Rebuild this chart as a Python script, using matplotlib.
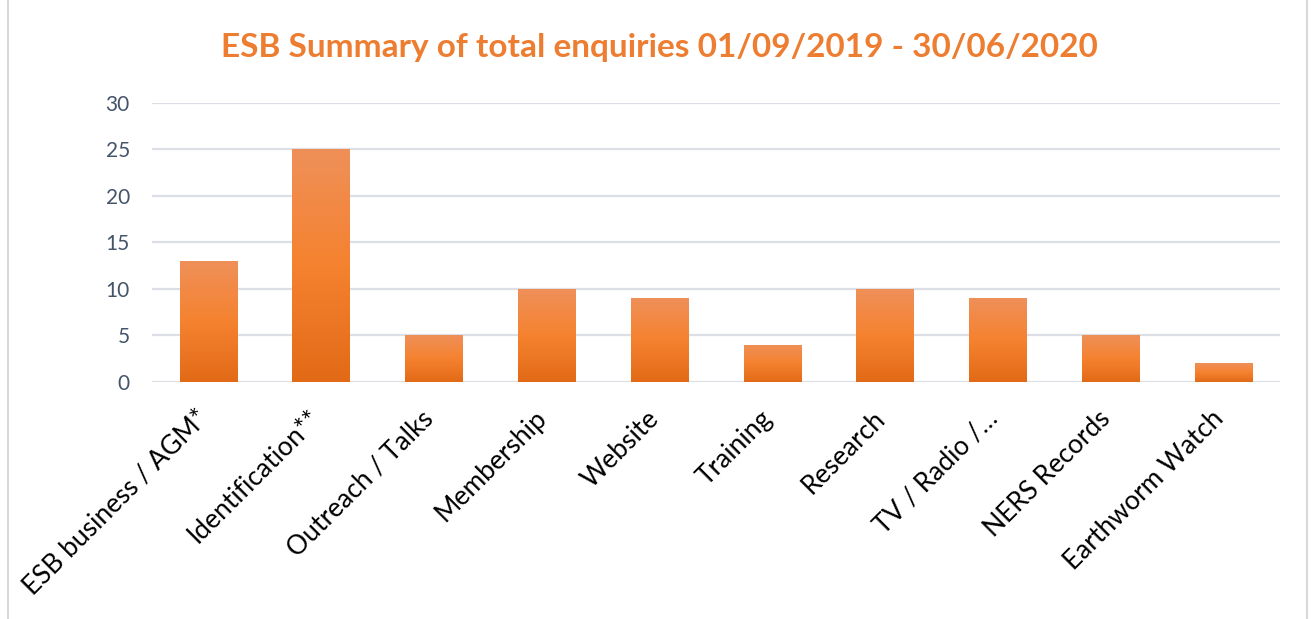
import matplotlib.pyplot as plt
import numpy as np
from matplotlib.colors import LinearSegmentedColormap
from matplotlib.patches import Rectangle
from matplotlib.transforms import ScaledTranslation

categories = ["ESB business / AGM*", "Identification**", "Outreach / Talks", "Membership",
              "Website", "Training", "Research", "TV / Radio /\u2026", "NERS Records",
              "Earthworm Watch"]
enquiries = [13, 25, 5, 10, 9, 4, 10, 9, 5, 2]

plt.rcParams['font.family'] = ['Lato', 'DejaVu Sans']

fig = plt.figure(figsize=(13.12, 6.19), dpi=100)
ax = fig.add_axes([0.1159, 0.3829, 0.8597, 0.4507])

# chart border
fig.patches.append(Rectangle((8 / 1312, -0.1), 1299 / 1312, 1.2, transform=fig.transFigure,
                             fill=False, edgecolor='#D9D9D9', linewidth=1.5))

grad = LinearSegmentedColormap.from_list('g', ['#E26A17', '#F5822F', '#EF9059'])
x = np.arange(len(categories))
bars = ax.bar(x, enquiries, width=0.51, color='none', zorder=3)
img = np.linspace(0, 1, 256).reshape(-1, 1)
for b in bars:
    x0, y0, w, h = b.get_x(), b.get_y(), b.get_width(), b.get_height()
    im = ax.imshow(img, cmap=grad, origin='lower', aspect='auto',
                   extent=(x0, x0 + w, y0, y0 + h), zorder=3)
    im.set_clip_path(b)

ax.set_xlim(-0.5, len(categories) - 0.5)
ax.set_ylim(0, 30)
ax.set_yticks(range(0, 31, 5))
ax.yaxis.grid(True, color='#DCE0E6', linewidth=1.6, zorder=0)
ax.set_axisbelow(True)
for s in ax.spines.values():
    s.set_visible(False)
ax.tick_params(length=0)
ax.tick_params(axis='y', labelsize=15, labelcolor='#44546A', pad=16)
ax.set_xticks(x)
ax.set_xticklabels(categories, rotation=45, ha='right', va='top',
                   rotation_mode='anchor', fontsize=19, color='black')
ax.tick_params(axis='x', pad=17)
# nudge labels left so their ends sit under the bars
shift = ScaledTranslation(-0.13, 0, fig.dpi_scale_trans)
for lbl in ax.get_xticklabels():
    lbl.set_transform(lbl.get_transform() + shift)

fig.text(0.503, 1 - 48 / 619, "ESB Summary of total enquiries 01/09/2019 - 30/06/2020",
         ha='center', va='center', fontsize=24, fontweight='bold', color='#ED7D31')

fig.savefig('out.png', dpi=100)
